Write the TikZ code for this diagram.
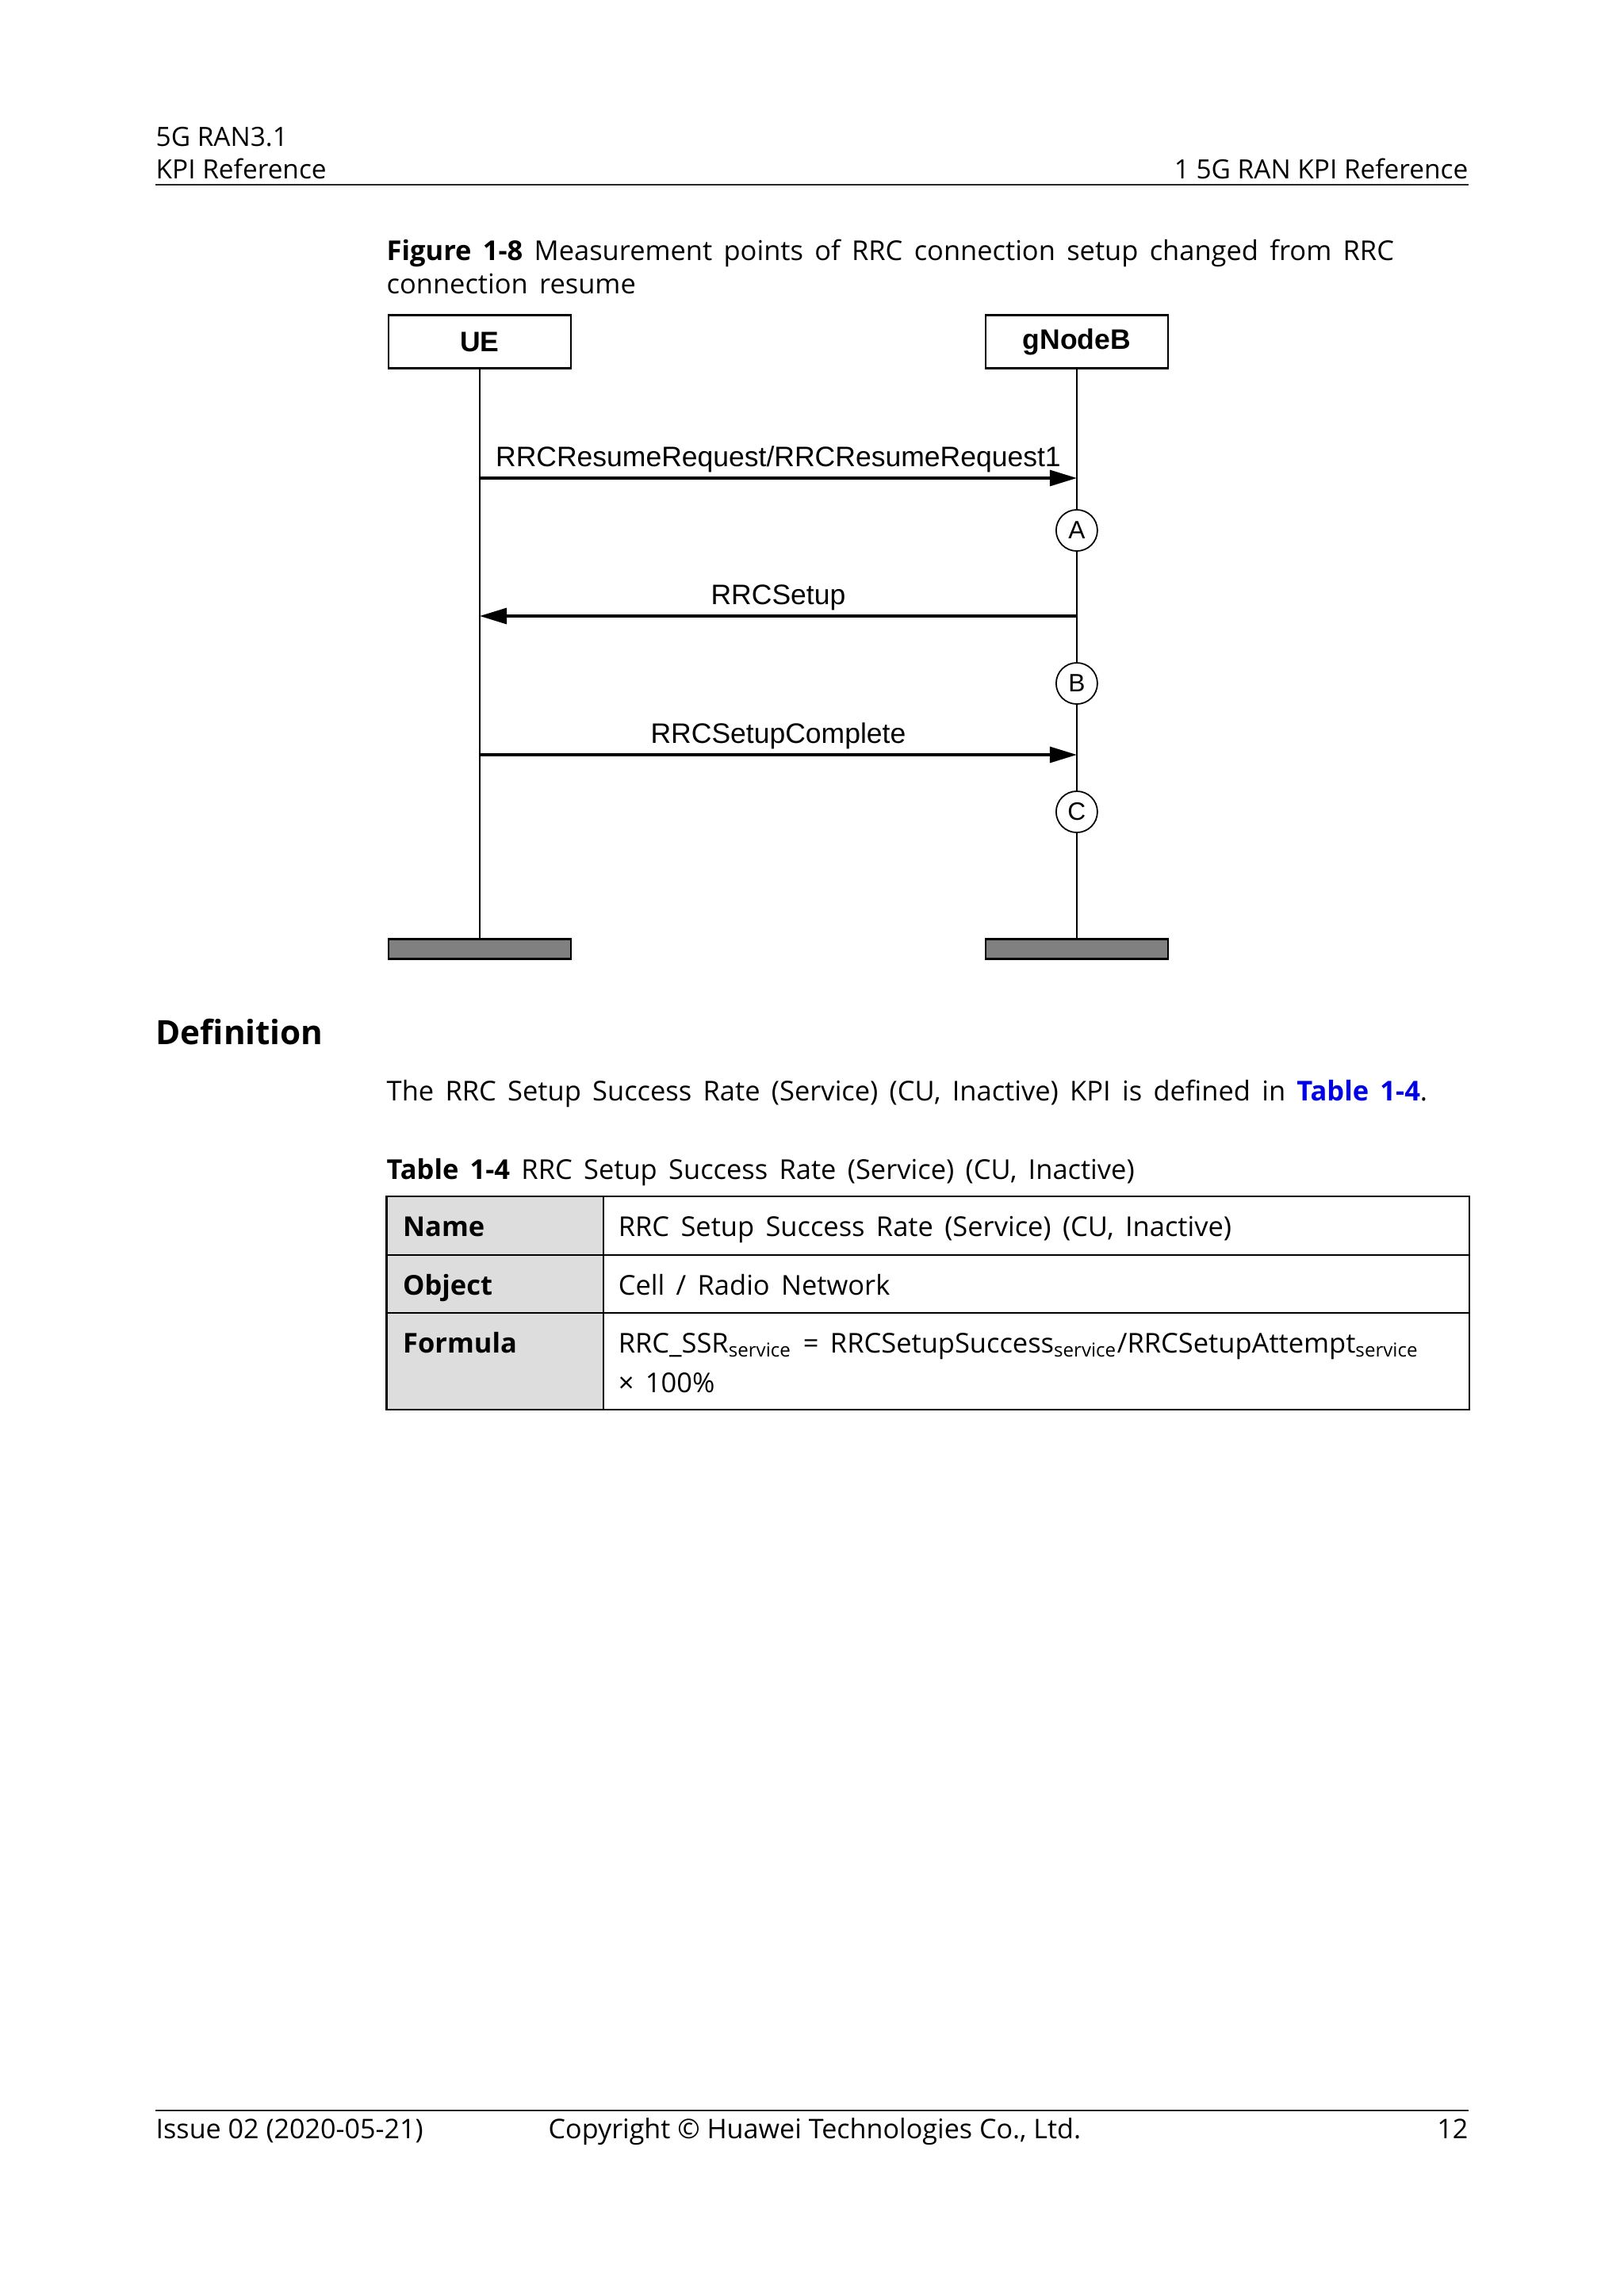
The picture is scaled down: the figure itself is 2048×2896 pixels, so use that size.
\documentclass[tikz,border=0pt]{standalone}
\usepackage{fontspec}
\setmainfont{Open Sans}
\newfontfamily\bodyfont{Open Sans}[WordSpace=1.6]
\newfontfamily\diagfont{Liberation Sans}
\usetikzlibrary{positioning,arrows.meta}

\definecolor{headgray}{RGB}{221,221,221}
\definecolor{bargray}{RGB}{128,128,128}
\definecolor{linkblue}{RGB}{0,0,230}

\newcommand{\pagesize}{\fontsize{9.5}{12}\selectfont}
\newcommand{\bodysize}{\bodyfont\fontsize{9.8}{12}\selectfont}
\newcommand{\diagsize}{\diagfont\fontsize{10.1}{12}\selectfont}

\tikzset{
  pagetext/.style={anchor=base west, inner sep=0pt, font=\pagesize},
  bodytext/.style={anchor=base west, inner sep=0pt, font=\bodysize},
  entity/.style={draw, line width=0.7pt, minimum width=2.3cm, minimum height=0.67cm, inner sep=0pt, font=\diagsize\bfseries},
  endbar/.style={draw, fill=bargray, line width=0.7pt, minimum width=2.3cm, minimum height=0.25cm, inner sep=0pt},
  lifeline/.style={line width=0.45pt},
  msg/.style={line width=0.9pt, -{Triangle[length=0.34cm,width=0.2cm]}},
  msglabel/.style={midway, above, inner sep=1.5pt, font=\diagsize},
  mpoint/.style={circle, draw, fill=white, line width=0.5pt, minimum size=0.52cm, inner sep=0pt, font=\diagfont\fontsize{9}{9}\selectfont},
  tcell/.style={draw, anchor=north west, line width=0.7pt, inner sep=0pt, outer sep=0pt},
  pagerule/.style={line width=0.7pt, black!85},
}

\begin{document}
\begin{tikzpicture}[x=0.01cm, y=-0.01cm]
\useasboundingbox[fill=white] (0,0) rectangle (2048,2896);

% --- Page header
\node[pagetext] (hd1) at (196,184) {5G RAN3.1};
\node[pagetext] (hd2) at (196,225) {KPI Reference};
\node[pagetext, anchor=base east] (hd3) at (1852,225) {1 5G RAN KPI Reference};
\draw[pagerule] (196,233) -- (1852,233);

% --- Figure caption
\node[bodytext] (cap1) at (487,328) {\textbf{Figure 1-8} Measurement points of RRC connection setup changed from RRC};
\node[bodytext] (cap2) at (487,370) {connection resume};

% --- Entities and lifelines
\node[entity] (ue) at (605,431) {UE};
\node[entity, right=5.2cm of ue] (gnb) {gNodeB};
\node[endbar, below=7.17cm of ue] (uebar) {};
\node[endbar, below=7.17cm of gnb] (gnbbar) {};

\draw[lifeline] (ue) -- (uebar);
\draw[lifeline] (gnb) -- (gnbbar);

% --- Messages
\coordinate (ue1) at (ue |- 0,603);
\coordinate (gnb1) at (gnb |- 0,603);
\coordinate (ue2) at (ue |- 0,777);
\coordinate (gnb2) at (gnb |- 0,777);
\coordinate (ue3) at (ue |- 0,952);
\coordinate (gnb3) at (gnb |- 0,952);

\draw[msg] (ue1) -- node[msglabel] {RRCResumeRequest/RRCResumeRequest1} (gnb1);
\draw[msg] (gnb2) -- node[msglabel] {RRCSetup} (ue2);
\draw[msg] (ue3) -- node[msglabel] {RRCSetupComplete} (gnb3);

% --- Measurement points
\node[mpoint] (ptA) at (gnb |- 0,669) {A};
\node[mpoint] (ptB) at (gnb |- 0,862) {B};
\node[mpoint] (ptC) at (gnb |- 0,1024) {C};

% --- Definition
\node[pagetext, font=\fontsize{12}{14}\selectfont\bfseries] (defhead) at (196,1317) {Definition};
\node[bodytext] (defbody) at (487,1388) {The RRC Setup Success Rate (Service) (CU, Inactive) KPI is defined in \textcolor{linkblue}{\textbf{Table 1-4}}.};
\node[bodytext] (tabcap) at (487,1487) {\textbf{Table 1-4} RRC Setup Success Rate (Service) (CU, Inactive)};

% --- Table
\node[tcell, fill=headgray, minimum width=2.735cm, minimum height=0.74cm] (c11) at (487.5,1509) {};
\node[tcell, minimum width=10.91cm, minimum height=0.74cm] (c12) at (c11.north east) {};
\node[tcell, fill=headgray, minimum width=2.735cm, minimum height=0.73cm] (c21) at (c11.south west) {};
\node[tcell, minimum width=10.91cm, minimum height=0.73cm] (c22) at (c21.north east) {};
\node[tcell, fill=headgray, minimum width=2.735cm, minimum height=1.22cm] (c31) at (c21.south west) {};
\node[tcell, minimum width=10.91cm, minimum height=1.22cm] (c32) at (c31.north east) {};

\node[bodytext, font=\bodysize\bfseries] (t11) at ([shift={(20,50)}]c11.north west) {Name};
\node[bodytext] (t12) at ([shift={(18,50)}]c12.north west) {RRC Setup Success Rate (Service) (CU, Inactive)};
\node[bodytext, font=\bodysize\bfseries] (t21) at ([shift={(20,50)}]c21.north west) {Object};
\node[bodytext] (t22) at ([shift={(18,50)}]c22.north west) {Cell / Radio Network};
\node[bodytext, font=\bodysize\bfseries] (t31) at ([shift={(20,50)}]c31.north west) {Formula};
\node[bodytext] (t32) at ([shift={(18,50)}]c32.north west) {RRC\_SSR\textsubscript{service} = RRCSetupSuccess\textsubscript{service}/RRCSetupAttempt\textsubscript{service}};
\node[bodytext] (t33) at ([shift={(18,100)}]c32.north west) {× 100\%};

% --- Page footer
\draw[pagerule] (196,2662) -- (1852,2662);
\node[pagetext, font=\fontsize{9.7}{12}\selectfont] (ft1) at (196,2697) {Issue 02 (2020-05-21)};
\node[pagetext, font=\fontsize{9.7}{12}\selectfont] (ft2) at (691,2697) {Copyright © Huawei Technologies Co., Ltd.};
\node[pagetext, font=\fontsize{9.7}{12}\selectfont, anchor=base east] (ft3) at (1852,2697) {12};

\end{tikzpicture}
\end{document}
